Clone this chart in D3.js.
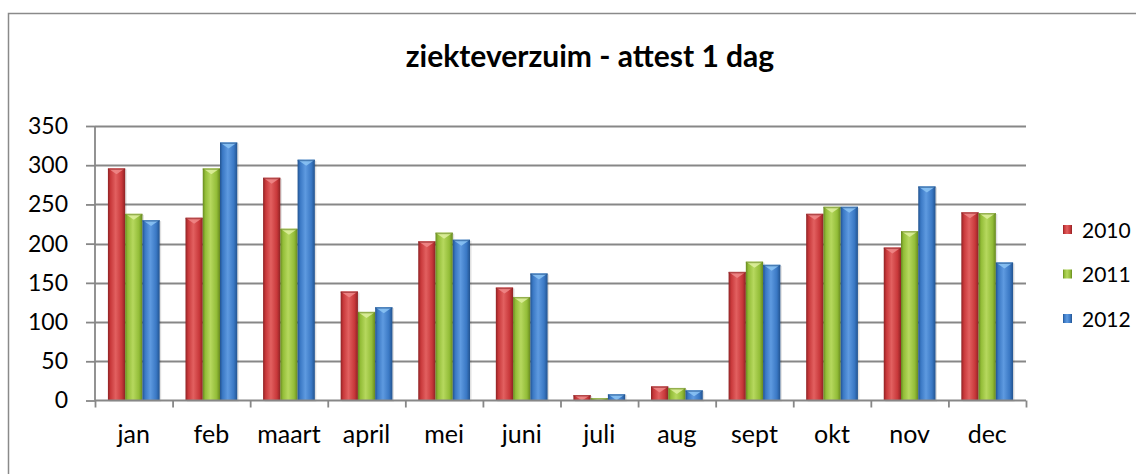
<!DOCTYPE html>
<html><head><meta charset="utf-8">
<script src="https://cdn.jsdelivr.net/npm/d3@7/dist/d3.min.js"></script>
<style>body{margin:0;background:#fff;} svg{display:block;}</style>
</head><body>
<svg id="c" width="1136" height="474"></svg>
<script>
const title = "ziekteverzuim - attest 1 dag";
const months = ["jan","feb","maart","april","mei","juni","juli","aug","sept","okt","nov","dec"];
const seriesNames = ["2010","2011","2012"];
const values2010 = [296,233,284,139,203,144,7,18,164,238,195,240];
const values2011 = [238,296,219,113,214,132,3,16,177,247,216,239];
const values2012 = [230,329,307,119,205,162,8,13,173,247,273,176];
const yTicks = [0,50,100,150,200,250,300,350];

const seriesValues = [values2010, values2011, values2012];
const colors = [
  {base:"#c8383a", light:"#e26060", dark:"#8e2224", tip:"#f08a8a"},
  {base:"#93bd38", light:"#b6d85e", dark:"#67891f", tip:"#dff0a0"},
  {base:"#3a78c4", light:"#5e9ae0", dark:"#22538f", tip:"#8cc4f4"}
];
const font = "Lato, sans-serif";

const svg = d3.select("#c");
const defs = svg.append("defs");
colors.forEach((c,i)=>{
  const g = defs.append("linearGradient").attr("id","g"+i).attr("x1","0").attr("x2","1").attr("y1","0").attr("y2","0");
  g.append("stop").attr("offset","0").attr("stop-color",c.dark);
  g.append("stop").attr("offset","0.15").attr("stop-color",c.base);
  g.append("stop").attr("offset","0.45").attr("stop-color",c.light);
  g.append("stop").attr("offset","0.8").attr("stop-color",c.base);
  g.append("stop").attr("offset","1").attr("stop-color",c.dark);
});

// outer border (chart area extends beyond the picture)
svg.append("path").attr("d","M8.5,1200 L8.5,13.5 L1200,13.5")
  .attr("fill","none").attr("stroke","#8a8a8a").attr("stroke-width",1.5);

svg.append("text").attr("x",590).attr("y",67).attr("text-anchor","middle")
  .attr("font-family",font).attr("font-weight","bold").attr("font-size",30)
  .attr("fill","#000").text(title);

const x0 = d3.scaleBand().domain(months).range([95,1026]).paddingInner(0).paddingOuter(0);
const y = d3.scaleLinear().domain([0,350]).range([400.5,126]);
const groupW = x0.bandwidth()*0.667;
const x1 = d3.scaleBand().domain(seriesNames).range([0,groupW]).padding(0);

// gridlines
svg.append("g").selectAll("line").data(yTicks.filter(d=>d>0)).join("line")
  .attr("x1",95).attr("x2",1026).attr("y1",d=>Math.round(y(d))+0.5).attr("y2",d=>Math.round(y(d))+0.5)
  .attr("stroke","#878787").attr("stroke-width",1.8);

// y axis
const yAxis = d3.axisLeft(y).tickValues(yTicks).tickSize(9).tickPadding(18);
const ya = svg.append("g").attr("transform","translate(95,0)").call(yAxis);
ya.select(".domain").attr("stroke","#878787").attr("stroke-width",1.8).attr("d","M0,126V400.5");
ya.selectAll(".tick line").attr("stroke","#878787").attr("stroke-width",1.8);
ya.selectAll(".tick text").attr("font-family",font).attr("font-size",23).attr("fill","#000");

// bars
months.forEach((m,mi)=>{
  const gx = x0(m) + (x0.bandwidth()-groupW)/2;
  seriesNames.forEach((s,si)=>{
    const v = seriesValues[si][mi];
    const bx = gx + x1(s), bw = x1.bandwidth();
    const top = y(v), h = y(0)-top;
    svg.append("rect").attr("x",bx+1.5).attr("y",top+1).attr("width",bw).attr("height",h)
      .attr("fill","#000").attr("opacity",0.12);
    svg.append("rect").attr("x",bx).attr("y",top).attr("width",bw).attr("height",h)
      .attr("fill","url(#g"+si+")");
    svg.append("path")
      .attr("d",`M${bx},${top}L${bx+bw},${top}L${bx+bw/2},${top+Math.min(6,h)}Z`)
      .attr("fill",colors[si].tip).attr("opacity",0.85);
    svg.append("rect").attr("x",bx).attr("y",top).attr("width",bw).attr("height",Math.min(1.5,h))
      .attr("fill",colors[si].dark).attr("opacity",0.6);
  });
});

// x axis
const xAxis = d3.axisBottom(d3.scaleLinear().domain([0,12]).range([95,1026])).tickValues(d3.range(13)).tickSize(7).tickFormat("");
const xa = svg.append("g").attr("transform","translate(0,400.5)").call(xAxis);
xa.select(".domain").attr("stroke","#878787").attr("stroke-width",1.8).attr("d","M95,0H1026");
xa.selectAll(".tick line").attr("stroke","#878787").attr("stroke-width",1.8);
svg.append("g").selectAll("text").data(months).join("text")
  .attr("x",d=>x0(d)+x0.bandwidth()/2).attr("y",443).attr("text-anchor","middle")
  .attr("font-family",font).attr("font-size",25).attr("fill","#000").text(d=>d);

// legend
const lg = svg.append("g").selectAll("g").data(seriesNames).join("g")
  .attr("transform",(d,i)=>`translate(1063,${230+i*44.5})`);
lg.append("rect").attr("x",0).attr("y",-5).attr("width",9).attr("height",9)
  .attr("fill",(d,i)=>`url(#g${i})`);
lg.append("text").attr("x",19).attr("y",7.5).attr("font-family",font).attr("font-size",21)
  .attr("fill","#000").text(d=>d);
</script>
</body></html>
